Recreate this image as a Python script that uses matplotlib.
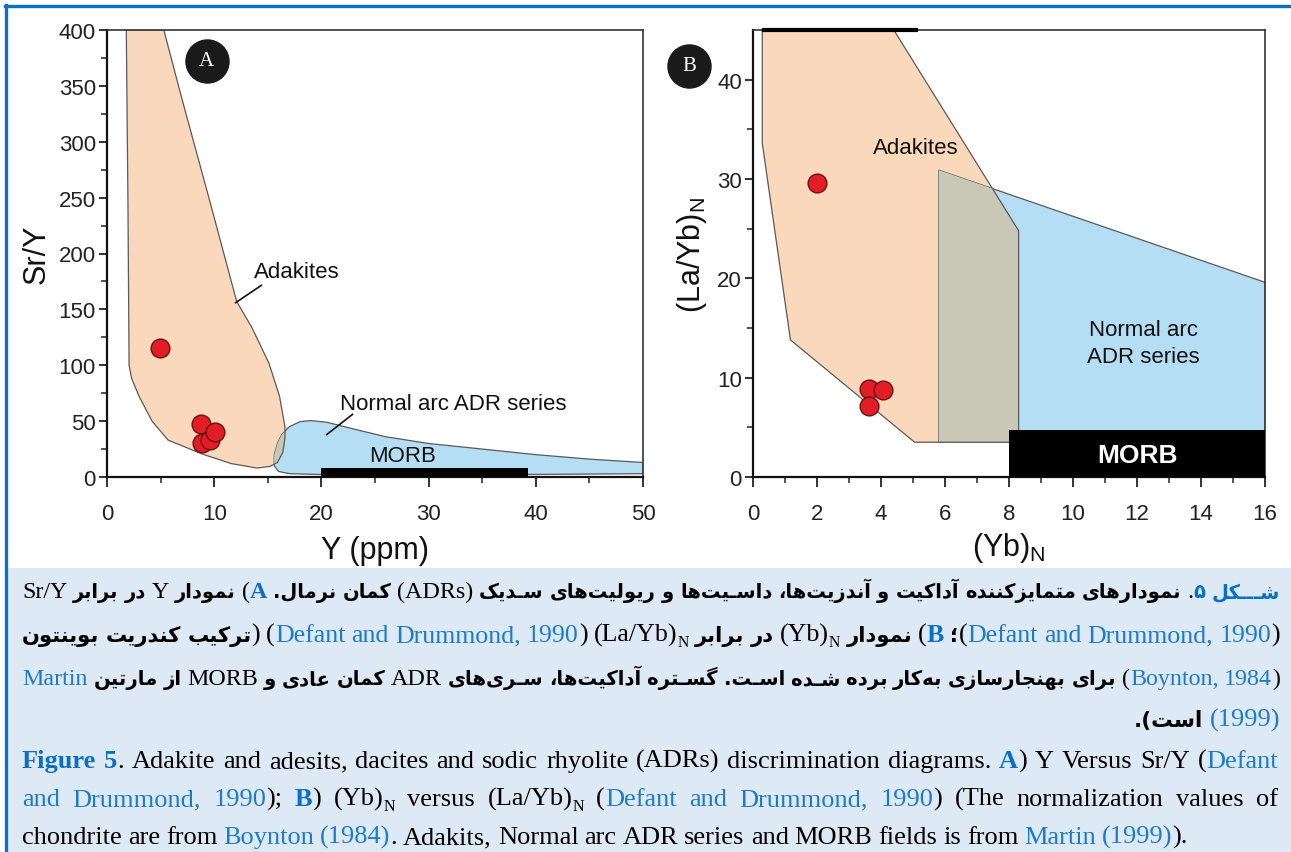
"""Adakite discrimination diagrams (Sr/Y vs Y, (La/Yb)N vs (Yb)N) with the bilingual caption."""

import matplotlib

matplotlib.use("Agg")
import matplotlib.pyplot as plt
from matplotlib.lines import Line2D
from matplotlib.patches import Polygon, Rectangle
from matplotlib.transforms import IdentityTransform

# ---------------- panel A: Y (ppm) vs Sr/Y ----------------
adakite_a_x = [1.8, 1.95, 2.06, 2.3, 3.0, 4.2, 5.7, 8.9, 11.6, 14.0, 15.2, 15.9,
               16.4, 16.6, 16.6, 16.1, 15.1, 13.5, 12.1, 9.5, 7.0, 5.3]
adakite_a_y = [400, 250, 100, 88, 72, 50, 33, 20.5, 12, 8, 9.5, 13,
               22, 35, 45, 72, 102, 134, 157, 250, 338, 400]
adr_a_x = [15.6, 15.9, 16.3, 17.0, 18.0, 19.0, 20.5, 23.0, 26.0, 30.0, 35.0, 40.0, 45.0, 50.0,
           50.0, 40.0, 30.0, 20.0, 17.0, 16.0, 15.6]
adr_a_y = [20, 30, 38, 45, 49.5, 50.5, 49, 43, 36, 30, 25, 20, 16, 13,
           3, 2.3, 2.2, 2.2, 3, 5, 10]
morb_a = (20.0, 39.3, 8.0)  # x start, x end, top
samples_a_y = [4.9, 8.8, 8.9, 9.6, 10.1]
samples_a_sry = [115, 47, 30, 33, 40]

# ---------------- panel B: (Yb)N vs (La/Yb)N ----------------
adakite_b_x = [0.29, 0.29, 1.17, 5.05, 8.3, 8.3, 4.4]
adakite_b_y = [45, 33.6, 13.8, 3.5, 3.5, 24.8, 45]
adr_b_x = [5.8, 16.0, 16.0, 5.8]
adr_b_y = [30.9, 19.6, 3.5, 3.5]
morb_b = (8.0, 16.0, 4.7)
samples_b_yb = [2.0, 3.62, 4.05, 3.63]
samples_b_layb = [29.6, 8.9, 8.8, 7.1]

W, H = 1291, 853
BLUE = "#0b6fc4"
LINK = "#1f7bc6"
PEACH = "#fad8bb"
SKY = "#b5def5"
GREY = "#c9c7b5"
EDGE = "#5a5a5a"

FA_DUAL = {
    "ب": "\uFE8F\uFE90\uFE91\uFE92", "پ": "\uFB56\uFB57\uFB58\uFB59", "ت": "\uFE95\uFE96\uFE97\uFE98",
    "ج": "\uFE9D\uFE9E\uFE9F\uFEA0", "س": "\uFEB1\uFEB2\uFEB3\uFEB4", "ش": "\uFEB5\uFEB6\uFEB7\uFEB8",
    "ع": "\uFEC9\uFECA\uFECB\uFECC", "ف": "\uFED1\uFED2\uFED3\uFED4", "ک": "\uFB8E\uFB8F\uFB90\uFB91",
    "گ": "\uFB92\uFB93\uFB94\uFB95", "ل": "\uFEDD\uFEDE\uFEDF\uFEE0", "م": "\uFEE1\uFEE2\uFEE3\uFEE4",
    "ن": "\uFEE5\uFEE6\uFEE7\uFEE8", "ه": "\uFEE9\uFEEA\uFEEB\uFEEC", "ی": "\uFBFC\uFBFD\uFBFE\uFBFF",
    "ـ": "\u0640\u0640\u0640\u0640",
}
FA_RIGHT = {
    "ا": "\uFE8D\uFE8E", "آ": "\uFE81\uFE82", "د": "\uFEA9\uFEAA", "ر": "\uFEAD\uFEAE",
    "ز": "\uFEAF\uFEB0", "ژ": "\uFB8A\uFB8B", "و": "\uFEED\uFEEE",
}
MIRROR = {"(": ")", ")": "("}


def shape_fa(word):
    """Contextual Persian forms, returned in visual (left-to-right) order."""
    out = []
    for i, c in enumerate(word):
        prev = word[i - 1] if i > 0 else ""
        nxt = word[i + 1] if i + 1 < len(word) else ""
        joins_prev = prev in FA_DUAL
        if c in FA_RIGHT:
            out.append(FA_RIGHT[c][1 if joins_prev else 0])
        elif c in FA_DUAL:
            joins_next = nxt in FA_DUAL or nxt in FA_RIGHT
            idx = {(False, False): 0, (True, False): 1, (False, True): 2, (True, True): 3}
            out.append(FA_DUAL[c][idx[(joins_prev, joins_next)]])
        elif c == "\u200c":
            continue
        else:
            out.append(MIRROR.get(c, c))
    return "".join(out[::-1])


def lat(text, style="en"):
    return [[(w, style)] for w in text.split(" ")]


def fa(text, style="fa", tail=None):
    words = [[(shape_fa(w), style)] for w in text.split(" ")[::-1]]
    if tail:
        words[-1].append(tail)
    return words


def glue(*segments):
    return [list(segments)]


def cite(lead=None, style="enL"):
    first = [("(", "en"), ("Defant", style)]
    if lead:
        first.insert(0, lead)
    return [first] + lat("and Drummond,", style) + glue(("1990", style), (")", "en"))


# ---------------- caption lines, visual left-to-right order ----------------
fa_line1 = (lat("Sr/Y") + fa("در برابر") + lat("Y") + fa("نمودار")
            + glue(("(", "en"), ("A", "enB")) + fa("کمان نرمال.") + lat("(ADRs)")
            + fa("نمودارهای متمایزکننده آداکیت و آندزیت‌ها، داسـیت‌ها و ریولیت‌های سـدیک")
            + glue((".", "en"), ("۵", "faB")) + fa("شـــکل", "faB"))
fa_line2 = (fa("ترکیب کندریت بوینتون", tail=(")", "en")) + cite()
            + glue(("(La/Yb)", "en"), ("N", "sub")) + fa("در برابر")
            + glue(("(Yb)", "en"), ("N", "sub")) + fa("نمودار")
            + glue(("(", "en"), ("B", "enB")) + cite(lead=("؛", "fa")))
fa_line3 = (lat("Martin", "enL") + fa("از مارتین") + lat("MORB") + fa("کمان عادی و") + lat("ADR")
            + fa("برای بهنجارسازی به‌کار برده شـده اسـت. گسـتره آداکیت‌ها، سـری‌های")
            + glue(("(", "en"), ("Boynton,", "enL")) + glue(("1984", "enL"), (")", "en")))
fa_line4 = fa("است).") + lat("(1999)", "enL")
en_line1 = (lat("Figure", "enB") + glue(("5", "enB"), (".", "en"))
            + lat("Adakite and adesits, dacites and sodic rhyolite (ADRs) discrimination diagrams.")
            + glue(("A", "enB"), (")", "en")) + lat("Y Versus Sr/Y")
            + glue(("(", "en"), ("Defant", "enL")))
en_line2 = (lat("and Drummond,", "enL") + glue(("1990", "enL"), (");", "en"))
            + glue(("B", "enB"), (")", "en")) + glue(("(Yb)", "en"), ("N", "sub")) + lat("versus")
            + glue(("(La/Yb)", "en"), ("N", "sub")) + cite()
            + lat("(The normalization values of"))
en_line3 = (lat("chondrite are from") + lat("Boynton", "enL") + glue(("(1984)", "enL"), (".", "en"))
            + lat("Adakits, Normal arc ADR series and MORB fields is from")
            + lat("Martin", "enL") + glue(("(1999)", "enL"), (").", "en")))

STYLES = {
    "en": dict(family="Liberation Serif", size=19, color="black"),
    "enL": dict(family="Liberation Serif", size=19, color=LINK),
    "enB": dict(family="Liberation Serif", size=19, color=BLUE, weight="bold"),
    "sub": dict(family="Liberation Serif", size=11.5, color="black"),
    "fa": dict(family="DejaVu Sans", size=15.5, color="black", weight="bold"),
    "faB": dict(family="DejaVu Sans", size=15.5, color=BLUE, weight="bold"),
}


def draw_line(fig, renderer, words, baseline, x0, x1, align):
    space = 6.0
    scale = 1.0
    for attempt in range(2):
        arts, widths = [], []
        for word in words:
            wa, ww = [], []
            for text, style in word:
                kw = dict(STYLES[style])
                family = kw.pop("family")
                size = kw.pop("size") * scale
                t = fig.text(0, 0, text, transform=IdentityTransform(), va="baseline",
                             ha="left", fontfamily=family, fontsize=size, **kw)
                wa.append((t, style))
                ww.append(t.get_window_extent(renderer).width)
            arts.append(wa)
            widths.append(ww)
        total = sum(sum(w) for w in widths)
        need = total + space * (len(words) - 1)
        if need <= (x1 - x0) or attempt == 1:
            break
        for wa in arts:
            for t, _ in wa:
                t.remove()
        scale *= (x1 - x0 - space * (len(words) - 1)) / total * 0.995
    if align == "justify" and len(words) > 1:
        gap = (x1 - x0 - total) / (len(words) - 1)
        x = x0
    elif align == "right":
        gap = space
        x = x1 - need
    else:
        gap = space
        x = x0
    y = H - baseline
    for wa, ww in zip(arts, widths):
        for (t, style), w in zip(wa, ww):
            t.set_position((x, y - (5 if style == "sub" else 0)))
            x += w
        x += gap


def style_axes(ax):
    for side in ("left", "bottom"):
        ax.spines[side].set_linewidth(1.6)
        ax.spines[side].set_color("#111111")
    for side in ("top", "right"):
        ax.spines[side].set_linewidth(1.2)
        ax.spines[side].set_color("#333333")
    ax.tick_params(which="major", direction="out", length=7, width=1.3, labelsize=16,
                   colors="#222222")
    ax.tick_params(which="minor", direction="out", length=4, width=1.1, colors="#222222")
    ax.tick_params(axis="x", which="major", pad=12)
    ax.tick_params(axis="y", which="major", length=6, pad=2)
    ax.tick_params(top=False, right=False, which="both")
    for lab in ax.get_xticklabels() + ax.get_yticklabels():
        lab.set_fontfamily("Liberation Sans")


def badge(ax, x, y, letter):
    ax.plot([x], [y], "o", ms=31, color="#1a1a1a", clip_on=False, zorder=6)
    ax.text(x, y, letter, color="white", ha="center", va="center", fontsize=15,
            family="Liberation Serif", clip_on=False, zorder=7)


def fields(ax, ad_x, ad_y, adr_x, adr_y, morb):
    ad = Polygon(list(zip(ad_x, ad_y)), closed=True, facecolor=PEACH, edgecolor=EDGE,
                 lw=0.9, zorder=1)
    ax.add_patch(ad)
    adr = Polygon(list(zip(adr_x, adr_y)), closed=True, facecolor=SKY, edgecolor=EDGE,
                  lw=0.9, zorder=2)
    ax.add_patch(adr)
    lens = Polygon(list(zip(ad_x, ad_y)), closed=True, facecolor=GREY, edgecolor=EDGE,
                   lw=0.9, zorder=3)
    ax.add_patch(lens)
    lens.set_clip_path(adr)
    ax.add_patch(Rectangle((morb[0], 0), morb[1] - morb[0], morb[2], facecolor="black",
                           edgecolor="none", zorder=4))


def main():
    plt.rcParams["mathtext.default"] = "regular"
    fig = plt.figure(figsize=(W / 100, H / 100), dpi=100)
    fig.patch.set_facecolor("white")

    # caption box and blue frame
    fig.patches.append(Rectangle((8 / W, 0), 1, (H - 569) / H, transform=fig.transFigure,
                                 facecolor="#dde9f5", edgecolor="none", zorder=0))
    fig.lines.append(Line2D([6 / W, 6 / W], [0, 1 - 6 / H], transform=fig.transFigure,
                            color=BLUE, lw=2.4))
    fig.lines.append(Line2D([5 / W, 1], [1 - 7 / H, 1 - 7 / H], transform=fig.transFigure,
                            color=BLUE, lw=2.4))

    def rect(l, t, r, b):
        return [l / W, 1 - b / H, (r - l) / W, (b - t) / H]

    label_kw = dict(family="Liberation Sans", color="#111111")

    # ---------- A ----------
    ax = fig.add_axes(rect(107, 31, 643, 478))
    ax.set_xlim(0, 50)
    ax.set_ylim(0, 400)
    fields(ax, adakite_a_x, adakite_a_y, adr_a_x, adr_a_y, morb_a)
    ax.plot(samples_a_y, samples_a_sry, "o", ms=13.5, mfc="#e21d25", mec="#6b0f0f", mew=1.0,
            zorder=5)
    ax.text(17.7, 184, "Adakites", fontsize=16, ha="center", va="center", **label_kw)
    ax.plot([12.0, 14.4], [156, 171.5], color="#111111", lw=1.2)
    ax.text(21.7, 66, "Normal arc ADR series", fontsize=16, ha="left", va="center", **label_kw)
    ax.plot([20.5, 22.9], [38, 56], color="#111111", lw=1.2)
    ax.text(27.6, 19, "MORB", fontsize=16, ha="center", va="center", **label_kw)
    badge(ax, 9.3, 372.5, "A")
    ax.set_xticks(range(0, 51, 10))
    ax.set_xticks(range(5, 50, 10), minor=True)
    ax.set_yticks(range(0, 401, 50))
    ax.set_yticks(range(25, 400, 50), minor=True)
    style_axes(ax)
    ax.set_xlabel("Y (ppm)", fontsize=22, labelpad=8, **label_kw)
    ax.set_ylabel("Sr/Y", fontsize=22, labelpad=5, **label_kw)

    # ---------- B ----------
    bx = fig.add_axes(rect(753, 31, 1265, 478))
    bx.set_xlim(0, 16)
    bx.set_ylim(0, 45)
    fields(bx, adakite_b_x, adakite_b_y, adr_b_x, adr_b_y, morb_b)
    bx.plot([0.35, 5.1], [45, 45], color="black", lw=3, zorder=6, clip_on=False)
    bx.plot(samples_b_yb, samples_b_layb, "o", ms=13.5, mfc="#e21d25", mec="#6b0f0f", mew=1.0,
            zorder=5)
    bx.text(5.1, 33.2, "Adakites", fontsize=16, ha="center", va="center", **label_kw)
    bx.text(12.2, 13.5, "Normal arc\nADR series", fontsize=16, ha="center", va="center",
            linespacing=1.4, **label_kw)
    bx.text(12.0, 2.2, "MORB", fontsize=19, family="Liberation Sans", weight="bold",
            ha="center", va="center", color="white", zorder=6)
    badge(bx, -2.0, 41.4, "B")
    bx.set_xticks(range(0, 17, 2))
    bx.set_xticks(range(1, 16, 2), minor=True)
    bx.set_yticks(range(0, 41, 10))
    bx.set_yticks(range(5, 45, 10), minor=True)
    style_axes(bx)
    bx.set_xlabel(r"(Yb)$_\mathregular{N}$", fontsize=22, labelpad=4, **label_kw)
    bx.set_ylabel(r"(La/Yb)$_\mathregular{N}$", fontsize=22, labelpad=6, **label_kw)

    # ---------- caption ----------
    fig.canvas.draw()
    renderer = fig.canvas.get_renderer()
    draw_line(fig, renderer, fa_line1, 598, 22, 1280, "justify")
    draw_line(fig, renderer, fa_line2, 642, 22, 1280, "justify")
    draw_line(fig, renderer, fa_line3, 685, 22, 1280, "justify")
    draw_line(fig, renderer, fa_line4, 727, 22, 1280, "right")
    draw_line(fig, renderer, en_line1, 768, 22, 1278, "justify")
    draw_line(fig, renderer, en_line2, 806, 22, 1278, "justify")
    draw_line(fig, renderer, en_line3, 844, 22, 1278, "left")

    fig.savefig("out.png", dpi=100)
    plt.close(fig)


if __name__ == "__main__":
    main()
